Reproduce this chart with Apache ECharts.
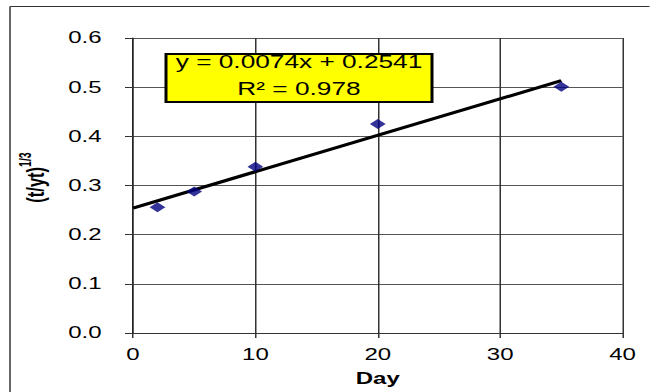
<!DOCTYPE html>
<html><head><meta charset="utf-8">
<script src="https://cdn.jsdelivr.net/npm/echarts@6/dist/echarts.min.js"></script>
<style>
html,body{margin:0;padding:0;background:#fff;overflow:hidden;}
#wrap{width:650px;height:392px;overflow:hidden;position:relative;background:#fff;}
#chart{width:433.333px;height:392px;transform:scaleX(1.5);transform-origin:0 0;}
</style></head><body>
<div id="wrap"><div id="chart"></div></div>
<script>
// data
const days = [2, 5, 10, 20, 35];
const values = [0.256, 0.288, 0.338, 0.425, 0.501];
const trendDays = [0, 35];
const trendValues = [0.2541, 0.5131];
const xTickLabels = ['0', '10', '20', '30', '40'];
const yTickLabels = ['0.0', '0.1', '0.2', '0.3', '0.4', '0.5', '0.6'];
const xTitle = 'Day';
const yTitleMain = '(t/yt)';
const yTitleSup = '1/3';
const equationText = 'y = 0.0074x + 0.2541';
const r2Text = 'R² = 0.978';

const SX = 1.5; // horizontal stretch of the reference picture
const FONT = 'Arial, "Liberation Sans", sans-serif';

const chart = echarts.init(document.getElementById('chart'), null, {renderer: 'svg'});
const option = {
  animation: false,
  backgroundColor: '#fff',
  grid: {left: 133 / SX, right: 27 / SX, top: 38, bottom: 59},
  xAxis: {
    type: 'value', min: 0, max: 40, interval: 10,
    name: xTitle, nameLocation: 'middle', nameGap: 38,
    nameTextStyle: {fontFamily: FONT, fontSize: 16, fontWeight: 'bold', color: '#000'},
    axisLine: {show: true, onZero: false, lineStyle: {color: '#333', width: 1}},
    axisTick: {show: true, inside: false, length: 5, lineStyle: {color: '#333'}},
    axisLabel: {fontFamily: FONT, fontSize: 16, color: '#000', margin: 14,
      formatter: (v) => xTickLabels[Math.round(v / 10)]},
    splitLine: {show: true, lineStyle: {color: '#333', width: 1}}
  },
  yAxis: {
    type: 'value', min: 0, max: 0.6, interval: 0.1,
    name: '{a|' + yTitleMain + '}{b|' + yTitleSup + '}',
    nameLocation: 'middle', nameRotate: 90, nameGap: 57,
    nameTextStyle: {
      padding: [0, 0, 0, 16],
      rich: {
        a: {fontFamily: FONT, fontSize: 16.5, fontWeight: 'bold', color: '#000', verticalAlign: 'bottom', lineHeight: 20},
        b: {fontFamily: FONT, fontSize: 10.5, fontWeight: 'bold', color: '#000', verticalAlign: 'top', lineHeight: 20}
      }
    },
    axisLine: {show: true, onZero: false, lineStyle: {color: '#222', width: 1}},
    axisTick: {show: true, inside: false, length: 8 / SX, lineStyle: {color: '#333'}},
    axisLabel: {fontFamily: FONT, fontSize: 16, color: '#000', margin: 21,
      formatter: (v) => yTickLabels[Math.round(v * 10)]},
    splitLine: {show: true, lineStyle: {color: '#555', width: 1}}
  },
  series: [
    {
      type: 'line', data: trendDays.map((d, i) => [d, trendValues[i]]),
      showSymbol: false, symbol: 'none', z: 3,
      lineStyle: {color: '#000', width: 3}
    },
    {
      type: 'scatter', data: days.map((d, i) => [d, values[i]]),
      symbol: 'diamond', symbolSize: [10.5, 10], z: 4,
      itemStyle: {color: '#000080'}
    }
  ],
  graphic: [
    {type: 'line', shape: {x1: 10 / SX, y1: 6.5, x2: 700 / SX, y2: 6.5}, style: {stroke: '#333', lineWidth: 1}, silent: true},
    {type: 'line', shape: {x1: 10 / SX, y1: 6.5, x2: 10 / SX, y2: 400}, style: {stroke: '#333', lineWidth: 1}, silent: true},
    {type: 'rect', shape: {x: 166 / SX, y: 54, width: (432 - 166) / SX, height: 48},
      style: {fill: '#ffff00', stroke: '#000', lineWidth: 2}, z: 10},
    {type: 'text', x: 299 / SX, y: 62, z: 11,
      style: {text: equationText, font: '17.5px ' + FONT, fill: '#000', textAlign: 'center', textVerticalAlign: 'middle'}},
    {type: 'text', x: 299 / SX, y: 89, z: 11,
      style: {text: r2Text, font: '17.5px ' + FONT, fill: '#000', textAlign: 'center', textVerticalAlign: 'middle'}}
  ]
};
chart.setOption(option);
</script>
</body></html>
